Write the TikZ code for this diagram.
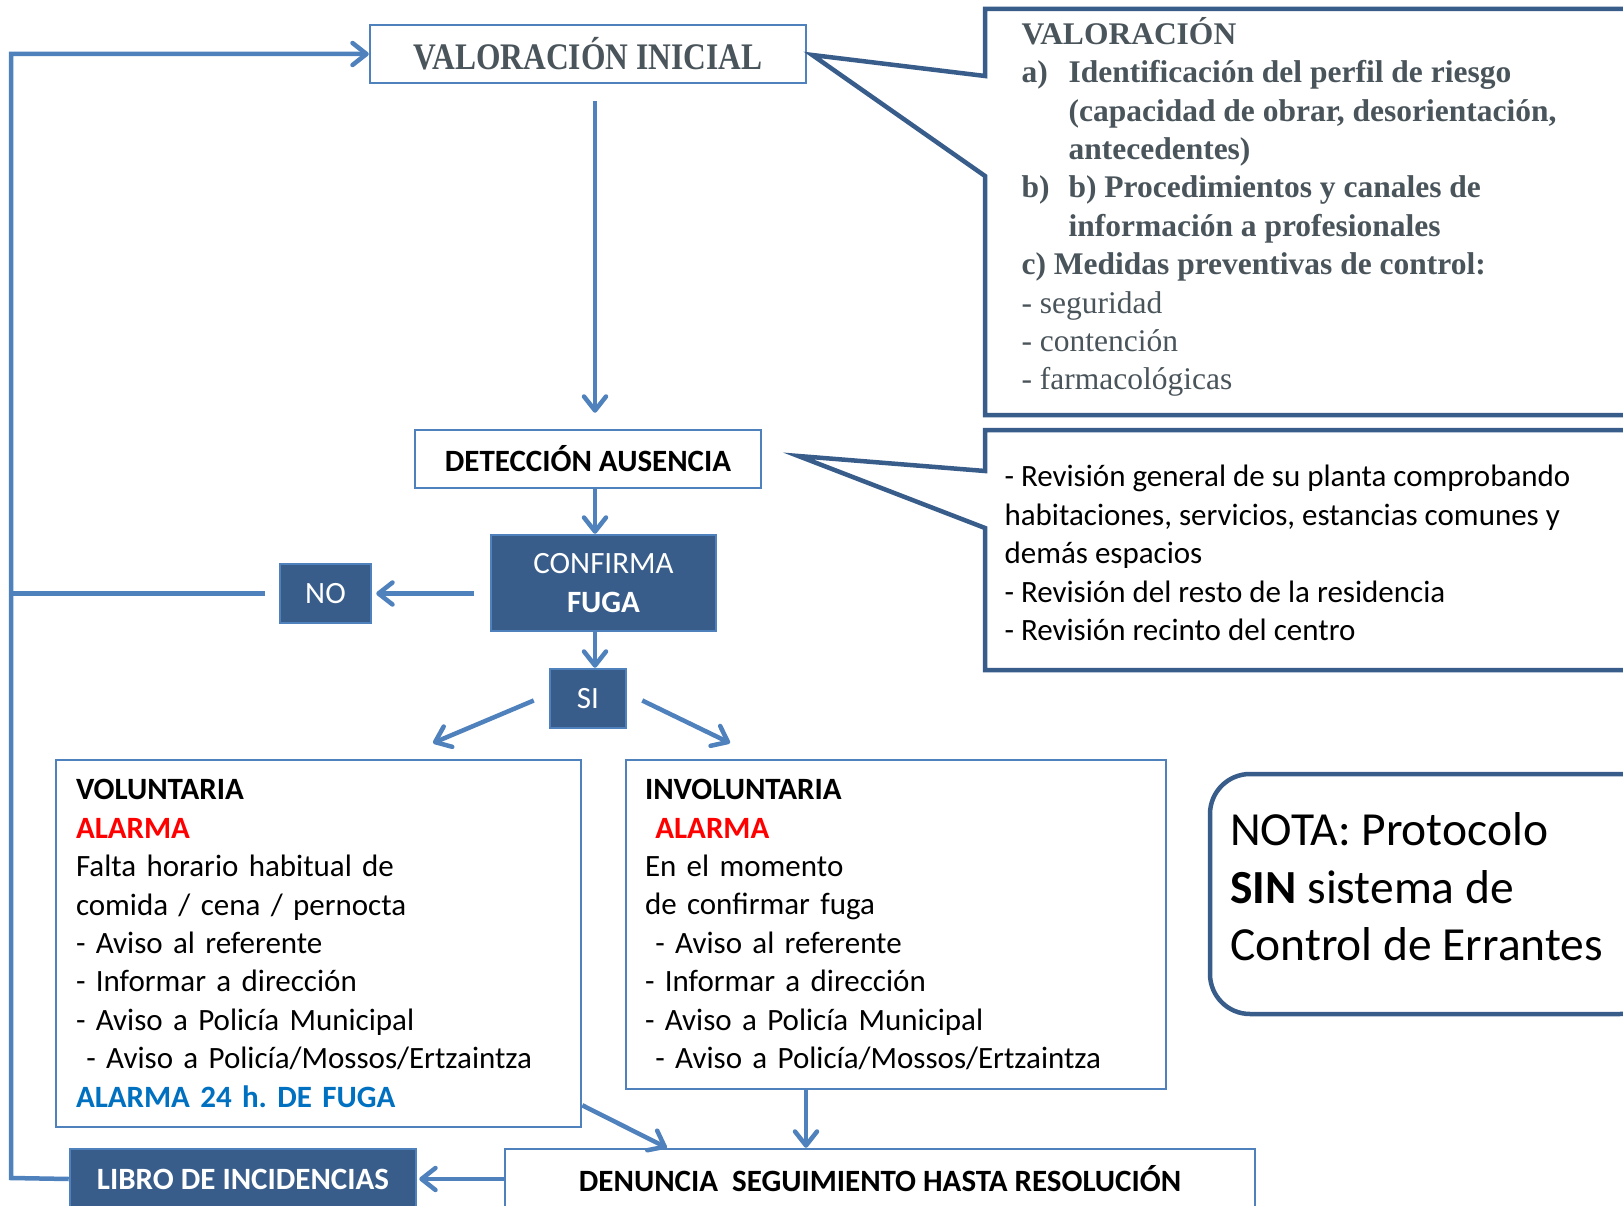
\documentclass[tikz,border=0pt]{standalone}
\usepackage{fontspec}
\setmainfont{Carlito}
\newfontfamily\timesfont{Liberation Serif}
\usepackage{xcolor}
\usepackage{tikz}
\usetikzlibrary{arrows.meta,positioning}
\frenchspacing

\definecolor{flowblue}{RGB}{79,129,189}
\definecolor{darkblue}{RGB}{56,93,138}
\definecolor{slategray}{RGB}{73,84,91}
\definecolor{alarmred}{RGB}{255,0,0}
\definecolor{alarmblue}{RGB}{0,112,192}

\begin{document}
\begin{tikzpicture}[x=1pt,y=-1pt,
flow/.style={draw=flowblue,line width=4.5pt,-{Straight Barb[length=14pt,width=22pt,round]}},
feed/.style={draw=flowblue,line width=4.5pt},
callout/.style={draw=darkblue,line width=4.5pt,line join=miter}]
\tikzstyle{every node}=[font=\fontsize{31}{38.4}\selectfont]
\tikzstyle{whitebox}=[draw=flowblue,line width=2.5pt,fill=white,inner sep=0pt]
\tikzstyle{bluebox}=[draw=flowblue,line width=2.5pt,fill=darkblue,text=white,inner sep=0pt]
\useasboundingbox (0,0) rectangle (1623,1206);
\fill[white] (0,0) rectangle (1623,1206);
\clip (0,0) rectangle (1623,1206);

    \node[whitebox,minimum width=436,minimum height=58] (valini) at (588,54)
        {\timesfont\bfseries\color{slategray}\fontsize{37.5}{40}\selectfont\raisebox{2pt}{\scalebox{0.84}[1]{VALORACIÓN INICIAL}}};
    \node[whitebox,minimum width=346,minimum height=58] (detec) at (588,459) {\bfseries DETECCIÓN AUSENCIA};
    \node[bluebox,minimum width=225,minimum height=96,align=center] (confirma) at (603.5,583) {CONFIRMA\\\textbf{FUGA}};
    \node[bluebox,minimum width=91,minimum height=59] (no) at (325.5,593.5) {NO};
    \node[bluebox,minimum width=76,minimum height=59] (si) at (588,698.5) {SI};
    \node[whitebox,text width=485,inner xsep=20,minimum height=367,align=left] (vol) at (318.5,943.5) {
        \textbf{VOLUNTARIA}\\
        \textbf{\color{alarmred}ALARMA}\\
        Falta horario habitual de\\
        comida / cena / pernocta\\
        - Aviso al referente\\
        - Informar a dirección\\
        - Aviso a Policía Municipal\\
        \ - Aviso a Policía/Mossos/Ertzaintza\\
        \textbf{\color{alarmblue}ALARMA 24 h. DE FUGA}};
    \node[whitebox,text width=502,inner xsep=19,minimum height=329,align=left] (invol) at (896,924.5) {
        \textbf{INVOLUNTARIA}\\
        \ \textbf{\color{alarmred}ALARMA}\\
        En el momento\\
        de confirmar fuga\\
        \ - Aviso al referente\\
        - Informar a dirección\\
        - Aviso a Policía Municipal\\
        \ - Aviso a Policía/Mossos/Ertzaintza};
    \node[whitebox,minimum width=750,minimum height=60] (denun) at (880,1179) {\bfseries DENUNCIA\ \ SEGUIMIENTO HASTA RESOLUCIÓN};
    \node[bluebox,minimum width=346,minimum height=60] (libro) at (243,1179) {\bfseries LIBRO DE INCIDENCIAS};
    \node[draw=darkblue,line width=4.5pt,rounded corners=40pt,minimum width=450,minimum height=240] (nota) at (1435,894) {};
    \node[anchor=west,align=left,font=\fontsize{47.5}{57.4}\selectfont] (notatext) at ([xshift=19pt,yshift=7pt]nota.west)
        {NOTA: Protocolo\\\textbf{SIN} sistema de\\Control de Errantes};

    % callouts on the right
    \draw[callout] (985,76) -- ([xshift=5pt,yshift=-1pt]valini.east) -- (985,176) -- (985,415)
        -- (1660,415) -- (1660,9) -- (985,9) -- cycle;
    \draw[callout] (985,471) -- ([xshift=36pt,yshift=3pt]detec.east) -- (985,528) -- (985,670)
        -- (1660,670) -- (1660,430) -- (985,430) -- cycle;
    \node[anchor=west,align=left,text=slategray,font=\timesfont\fontsize{31.5}{38.4}\selectfont] (valtext) at (1018,207) {
        \textbf{VALORACIÓN}\\
        \textbf{\makebox[47pt][l]{a)}Identificación del perfil de riesgo}\\
        \textbf{\hspace*{47pt}(capacidad de obrar, desorientación,}\\
        \textbf{\hspace*{47pt}antecedentes)}\\
        \textbf{\makebox[47pt][l]{b)}b) Procedimientos y canales de}\\
        \textbf{\hspace*{47pt}información a profesionales}\\
        \textbf{c) Medidas preventivas de control:}\\
        - seguridad\\
        - contención\\
        - farmacológicas};
    \node[anchor=west,align=left] (revtext) at (1001,553) {
        - Revisión general de su planta comprobando\\
        habitaciones, servicios, estancias comunes y\\
        demás espacios\\
        - Revisión del resto de la residencia\\
        - Revisión recinto del centro};

    \coordinate (feedtop) at (11,54);
    \coordinate (feedbot) at (11,1178);
    \coordinate (volin) at (433,743);
    \coordinate (involin) at (730,743);

    \draw[flow,shorten <=17pt,shorten >=16pt] ([xshift=7pt]valini.south) -- ([xshift=7pt]detec.north);
    \draw[flow] ([xshift=7pt]detec.south) -- ([xshift=7pt]detec.south |- confirma.north);
    \draw[flow,shorten <=16pt,shorten >=4pt] (confirma.west |- no.east) -- (no.east);
    \draw[feed] ([xshift=-14pt]no.west) -- (no.west -| feedtop);
    \draw[flow] ([xshift=7pt]si.north |- confirma.south) -- ([xshift=7pt]si.north);
    \draw[flow] ([xshift=-15pt,yshift=-2pt]si.west) -- (volin);
    \draw[flow] ([xshift=15pt,yshift=-2pt]si.east) -- (involin);
    \draw[flow] ([yshift=23pt]vol.south east) -- ([xshift=163pt]denun.north west);
    \draw[flow] ([xshift=-90pt]invol.south) -- ([xshift=-90pt]invol.south |- denun.north);
    \draw[flow,shorten >=2pt] (denun.west) -- (libro.east);
    \draw[flow] (libro.west) -- (feedbot) -- (feedtop) -- (valini.west);

\end{tikzpicture}
\end{document}
